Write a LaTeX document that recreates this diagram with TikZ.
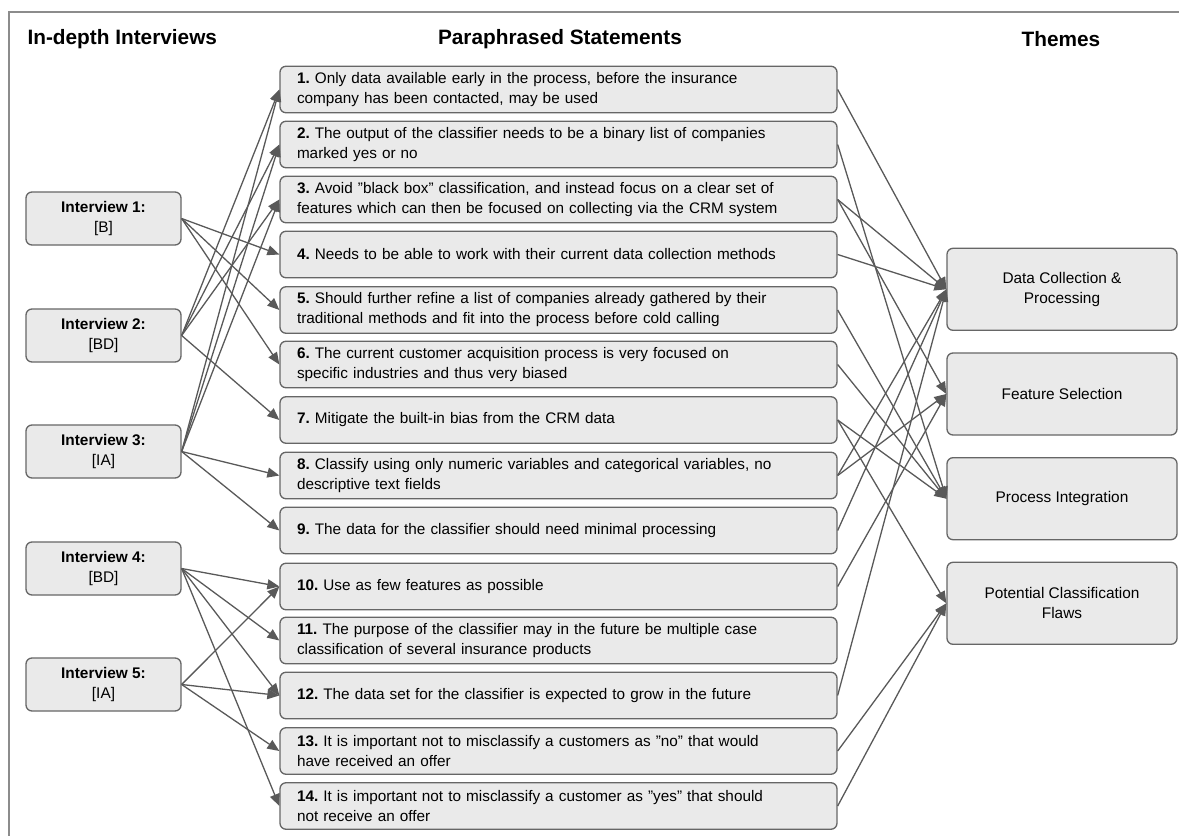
\documentclass[tikz,border=0pt]{standalone}
\usepackage{fontspec}
\setmainfont{Liberation Sans}
\usepackage{xcolor}
\usepackage{tikz}
\usetikzlibrary{arrows.meta, positioning}
\frenchspacing

\definecolor{boxfill}{HTML}{EAEAEA}
\definecolor{boxline}{HTML}{666666}
\definecolor{linkgray}{HTML}{595959}
\definecolor{framegray}{HTML}{8C8C8C}

\tikzset{
    box/.style={draw=boxline, fill=boxfill, line width=1.3pt, rounded corners=6pt},
    interview/.style={box, minimum width=155pt, minimum height=53pt, align=center, font=\fontsize{15.4}{20}\selectfont},
    statement/.style={box, text width=523pt, inner xsep=17pt, minimum height=46.5pt, align=left, font=\fontsize{15.3}{20}\selectfont},
    theme/.style={box, minimum width=230pt, minimum height=82pt, align=center, font=\fontsize{15.4}{20}\selectfont},
    header/.style={font=\fontsize{20.8}{24}\selectfont\bfseries},
    link/.style={draw=linkgray, line width=1.3pt, -{Triangle[length=12pt, width=10pt]}},
}

\begin{document}
\begin{tikzpicture}[x=1pt, y=-1pt]
    \useasboundingbox (0,0) rectangle (1179,836);

    % Frame
    \draw[framegray, line width=1.5pt] (9,836) -- (9,12) -- (1179,12);

    % Headers
    \node[header, anchor=west] (hint) at (24,39) {In-depth Interviews};
    \node[header] (hstat) at (560,39) {Paraphrased Statements};
    \node[header] (htheme) at (1061,39) {Themes};

    % Interviews
    \node[interview] (i1) at (103.5,218.5) {\textbf{Interview 1:}\\{[B]}};
    \node[interview] (i2) at (103.5,335.5) {\textbf{Interview 2:}\\{[BD]}};
    \node[interview] (i3) at (103.5,451.5) {\textbf{Interview 3:}\\{[IA]}};
    \node[interview] (i4) at (103.5,568.5) {\textbf{Interview 4:}\\{[BD]}};
    \node[interview] (i5) at (103.5,684.5) {\textbf{Interview 5:}\\{[IA]}};

    % Statements
    \node[statement] (s1) at (558.5,89.5) {\textbf{1.} Only data available early in the process, before the insurance\\company has been contacted, may be used};
    \node[statement] (s2) at (558.5,144.5) {\textbf{2.} The output of the classifier needs to be a binary list of companies\\marked yes or no};
    \node[statement] (s3) at (558.5,199.5) {\textbf{3.} Avoid "black box" classification, and instead focus on a clear set of\\features which can then be focused on collecting via the CRM system};
    \node[statement] (s4) at (558.5,254.5) {\textbf{4.} Needs to be able to work with their current data collection methods};
    \node[statement] (s5) at (558.5,310) {\textbf{5.} Should further refine a list of companies already gathered by their\\traditional methods and fit into the process before cold calling};
    \node[statement] (s6) at (558.5,364.5) {\textbf{6.} The current customer acquisition process is very focused on\\specific industries and thus very biased};
    \node[statement] (s7) at (558.5,420) {\textbf{7.} Mitigate the built-in bias from the CRM data};
    \node[statement] (s8) at (558.5,475.5) {\textbf{8.} Classify using only numeric variables and categorical variables, no\\descriptive text fields};
    \node[statement] (s9) at (558.5,530.5) {\textbf{9.} The data for the classifier should need minimal processing};
    \node[statement] (s10) at (558.5,586.5) {\textbf{10.} Use as few features as possible};
    \node[statement] (s11) at (558.5,640.5) {\textbf{11.} The purpose of the classifier may in the future be multiple case\\classification of several insurance products};
    \node[statement] (s12) at (558.5,695.5) {\textbf{12.} The data set for the classifier is expected to grow in the future};
    \node[statement] (s13) at (558.5,751) {\textbf{13.} It is important not to misclassify a customers as ”no” that would\\have received an offer};
    \node[statement] (s14) at (558.5,806) {\textbf{14.} It is important not to misclassify a customer as ”yes” that should\\not receive an offer};

    % Themes
    \node[theme] (t1) at (1062,289.3) {Data Collection \&\\Processing};
    \node[theme] (t2) at (1062,394) {Feature Selection};
    \node[theme] (t3) at (1062,498.7) {Process Integration};
    \node[theme] (t4) at (1062,603.3) {Potential Classification\\Flaws};

    % Interviews -> statements
    \draw[link] (i1.east) -- (s4.west);
    \draw[link] (i1.east) -- (s5.west);
    \draw[link] (i1.east) -- (s6.west);
    \draw[link] (i2.east) -- (s1.west);
    \draw[link] (i2.east) -- (s2.west);
    \draw[link] (i2.east) -- (s3.west);
    \draw[link] (i2.east) -- (s7.west);
    \draw[link] (i3.east) -- (s1.west);
    \draw[link] (i3.east) -- (s2.west);
    \draw[link] (i3.east) -- (s3.west);
    \draw[link] (i3.east) -- (s8.west);
    \draw[link] (i3.east) -- (s9.west);
    \draw[link] (i4.east) -- (s10.west);
    \draw[link] (i4.east) -- (s11.west);
    \draw[link] (i4.east) -- (s12.west);
    \draw[link] (i4.east) -- (s14.west);
    \draw[link] (i5.east) -- (s10.west);
    \draw[link] (i5.east) -- (s12.west);
    \draw[link] (i5.east) -- (s13.west);

    % Statements -> themes
    \draw[link] (s1.east) -- (t1.west);
    \draw[link] (s2.east) -- (t3.west);
    \draw[link] (s3.east) -- (t1.west);
    \draw[link] (s3.east) -- (t2.west);
    \draw[link] (s4.east) -- (t1.west);
    \draw[link] (s5.east) -- (t3.west);
    \draw[link] (s6.east) -- (t3.west);
    \draw[link] (s7.east) -- (t3.west);
    \draw[link] (s7.east) -- (t4.west);
    \draw[link] (s8.east) -- (t1.west);
    \draw[link] (s8.east) -- (t2.west);
    \draw[link] (s9.east) -- (t1.west);
    \draw[link] (s10.east) -- (t2.west);
    \draw[link] (s12.east) -- (t1.west);
    \draw[link] (s13.east) -- (t4.west);
    \draw[link] (s14.east) -- (t4.west);
\end{tikzpicture}
\end{document}
